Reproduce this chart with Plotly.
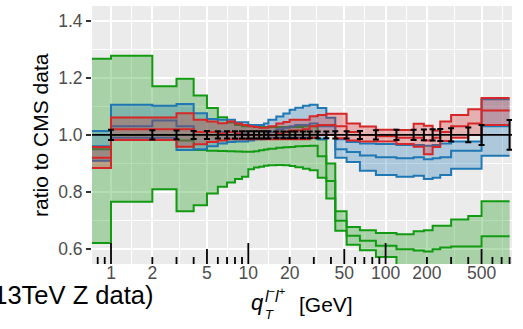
import plotly.graph_objects as go

# ---------------- data ----------------
bin_edges = [0.5, 1, 2, 3, 4, 5, 6, 7, 8, 9, 10, 11, 12, 13, 14, 16, 18, 20, 22, 25,
             28, 32, 37, 43, 52, 65, 85, 120, 160, 190, 220, 250, 300, 400, 500, 800]

green_hi = [1.266, 1.277, 1.170, 1.196, 1.138, 1.094, 1.062, 1.043, 1.035, 1.030, 1.030, 1.030,
            1.028, 1.028, 1.028, 1.028, 1.028, 1.028, 1.028, 1.030, 1.030, 0.985, 0.900, 0.733,
            0.678, 0.667, 0.657, 0.653, 0.663, 0.667, 0.682, 0.682, 0.704, 0.716, 0.768]
green_mid = [0.950, 1.000, 1.000, 0.980, 0.947, 0.945, 0.944, 0.943, 0.942, 0.941, 0.941, 0.943,
             0.946, 0.949, 0.952, 0.955, 0.957, 0.958, 0.960, 0.961, 0.962, 0.925, 0.839, 0.700,
             0.647, 0.630, 0.612, 0.600, 0.596, 0.592, 0.600, 0.606, 0.610, 0.610, 0.646]
green_lo = [0.622, 0.766, 0.810, 0.733, 0.754, 0.795, 0.819, 0.834, 0.846, 0.854, 0.880, 0.886,
            0.889, 0.892, 0.894, 0.895, 0.894, 0.891, 0.887, 0.882, 0.876, 0.850, 0.778, 0.665,
            0.616, 0.597, 0.573, 0.540, 0.530, 0.520, 0.520, 0.530, 0.530, 0.530, 0.540]

blue_hi = [1.014, 1.105, 1.102, 1.108, 1.076, 1.056, 1.053, 1.053, 1.044, 1.044, 1.035, 1.035,
           1.035, 1.040, 1.053, 1.064, 1.075, 1.088, 1.095, 1.102, 1.105, 1.094, 1.060, 0.985,
           0.975, 0.970, 0.968, 0.965, 0.965, 0.962, 0.965, 0.970, 0.977, 0.977, 1.125]
blue_mid = [0.960, 1.030, 1.050, 1.030, 1.010, 1.010, 1.010, 1.010, 1.005, 1.005, 1.000, 1.000,
            1.000, 1.005, 1.010, 1.020, 1.025, 1.030, 1.035, 1.035, 1.040, 1.030, 1.030, 0.950,
            0.940, 0.928, 0.922, 0.918, 0.922, 0.915, 0.918, 0.922, 0.945, 0.945, 1.030]
blue_lo = [0.910, 0.990, 0.990, 0.947, 0.950, 0.960, 0.970, 0.975, 0.977, 0.977, 0.980, 0.985,
           0.985, 0.988, 0.990, 0.990, 0.990, 0.990, 0.990, 0.990, 0.990, 0.985, 1.000, 0.920,
           0.905, 0.875, 0.860, 0.854, 0.857, 0.846, 0.850, 0.860, 0.882, 0.882, 0.927]

red_hi = [0.958, 1.061, 1.061, 1.076, 1.053, 1.047, 1.041, 1.047, 1.040, 1.035, 1.030, 1.028,
          1.025, 1.025, 1.030, 1.040, 1.045, 1.053, 1.053, 1.053, 1.065, 1.070, 1.074, 1.074,
          1.040, 1.029, 1.018, 1.017, 1.039, 1.032, 1.015, 1.047, 1.070, 1.090, 1.129]
red_mid = [0.920, 1.020, 1.020, 1.020, 1.010, 1.010, 1.005, 1.010, 1.005, 1.000, 1.000, 1.000,
           1.000, 1.000, 1.000, 1.005, 1.010, 1.015, 1.015, 1.020, 1.030, 1.035, 1.035, 1.030,
           1.010, 1.000, 0.995, 0.990, 0.990, 0.980, 0.990, 1.010, 1.030, 1.040, 1.085]
red_lo = [0.884, 0.982, 0.982, 0.959, 0.967, 0.975, 0.980, 0.985, 0.985, 0.985, 0.985, 0.985,
          0.985, 0.985, 0.985, 0.985, 0.985, 0.985, 0.985, 0.985, 0.990, 1.000, 1.000, 0.988,
          0.980, 0.977, 0.977, 0.968, 0.959, 0.932, 0.958, 0.979, 0.990, 1.000, 1.035]

data_x = bin_edges[1:]
data_ratio = [1.0] * len(data_x)
data_err = [0.018, 0.016, 0.015, 0.014, 0.014, 0.013, 0.013, 0.013, 0.013, 0.013, 0.013, 0.013,
            0.013, 0.013, 0.012, 0.012, 0.012, 0.012, 0.012, 0.012, 0.012, 0.012, 0.013, 0.013,
            0.014, 0.016, 0.018, 0.018, 0.019, 0.020, 0.021, 0.023, 0.026, 0.035, 0.052]

x_tick_vals = [1, 2, 5, 10, 20, 50, 100, 200, 500]
x_tick_text = ["1", "2", "5", "10", "20", "50", "100", "200", "500"]
x_minor_vals = [0.7071, 1.414, 3.162, 7.071, 14.14, 31.62, 70.71, 141.4, 316.2, 707.1]
y_tick_vals = [0.6, 0.8, 1.0, 1.2, 1.4]
y_tick_text = ["0.6", "0.8", "1.0", "1.2", "1.4"]
y_minor_vals = [0.7, 0.9, 1.1, 1.3]

# ---------------- figure ----------------
fig = go.Figure()


def step_y(vals):
    return list(vals) + [vals[-1]]


bands = [
    (green_lo, green_mid, green_hi, "#139a13", "rgba(44,160,44,0.35)"),
    (blue_lo, blue_mid, blue_hi, "#1f77b4", "rgba(31,119,180,0.30)"),
    (red_lo, red_mid, red_hi, "#d62728", "rgba(214,39,40,0.30)"),
]
for lo, mid, hi, lc, fc in bands:
    fig.add_trace(go.Scatter(x=bin_edges, y=step_y(lo), mode="lines",
                             line=dict(color=lc, width=2, shape="hv"), hoverinfo="skip"))
    fig.add_trace(go.Scatter(x=bin_edges, y=step_y(hi), mode="lines", fill="tonexty",
                             fillcolor=fc, line=dict(color=lc, width=2, shape="hv"),
                             hoverinfo="skip"))
    fig.add_trace(go.Scatter(x=bin_edges, y=step_y(mid), mode="lines",
                             line=dict(color=lc, width=2, shape="hv"), hoverinfo="skip"))

fig.add_hline(y=1.0, line_color="black", line_width=1.8)

fig.add_trace(go.Scatter(x=data_x, y=data_ratio, mode="markers",
                         marker=dict(size=1, color="black"),
                         error_y=dict(type="data", array=data_err, color="black",
                                      thickness=2, width=3)))

# annotation_logticks-style marks along the bottom of the panel
panel_h = 258.0
lt_x, lt_y = [], []
for dec in [0.1, 1, 10, 100]:
    for m in range(1, 10):
        v = m * dec
        if v < 0.72 or v > 840:
            continue
        L = 21 if m == 1 else (15 if m == 5 else 7)
        lt_x += [v, v, None]
        lt_y += [0, L / panel_h, None]
fig.add_trace(go.Scatter(x=lt_x, y=lt_y, mode="lines", yaxis="y2",
                         line=dict(color="black", width=1.8), hoverinfo="skip"))

fig.update_layout(
    width=523, height=329,
    margin=dict(l=92, r=11, t=6, b=65),
    paper_bgcolor="white", plot_bgcolor="#EBEBEB",
    showlegend=False,
    font=dict(family="Liberation Sans, Arial, sans-serif"),
    xaxis=dict(type="log", range=[-0.1384, 2.9206],
               tickmode="array", tickvals=x_tick_vals, ticktext=x_tick_text,
               showgrid=True, gridcolor="white", gridwidth=1.6,
               minor=dict(tickmode="array", tickvals=x_minor_vals, showgrid=True,
                          gridcolor="white", gridwidth=0.8, ticks=""),
               ticks="", ticklen=0, ticklabelstandoff=-4, zeroline=False, showline=False,
               tickfont=dict(size=17.5, color="#4D4D4D")),
    yaxis=dict(range=[0.5486, 1.4507], tickmode="array", tickvals=y_tick_vals,
               ticktext=y_tick_text, showgrid=True, gridcolor="white", gridwidth=1.6,
               minor=dict(tickmode="array", tickvals=y_minor_vals, showgrid=True,
                          gridcolor="white", gridwidth=0.8, ticks=""),
               ticks="outside", ticklen=5, tickwidth=1.5, tickcolor="#333333",
               zeroline=False, showline=False,
               tickfont=dict(size=17.5, color="#4D4D4D")),
    yaxis2=dict(overlaying="y", range=[0, 1], visible=False, fixedrange=True),
)

PW, PH, PL, PB = 420.0, 258.0, 92.0, 264.0


def px_x(p):
    return (p - PL) / PW


def px_y(p):
    return (PB - p) / PH


ann = [
    dict(text="ratio to CMS data", x=px_x(40), y=0.5, textangle=-90, xanchor="center",
         yanchor="middle", font=dict(size=21, color="black")),
    dict(text="(CMS 13TeV Z data)", x=px_x(155), y=px_y(295), xanchor="right",
         yanchor="middle", font=dict(size=25.5, color="black")),
    dict(text="<i>q</i>", x=px_x(249), y=px_y(302), xanchor="left", yanchor="middle",
         font=dict(size=22, color="black")),
    dict(text="<i>l</i><sup>−</sup><i>l</i><sup>+</sup>", x=px_x(263), y=px_y(295),
         xanchor="left", yanchor="middle", font=dict(size=16, color="black")),
    dict(text="<i>T</i>", x=px_x(263), y=px_y(314), xanchor="left", yanchor="middle",
         font=dict(size=13, color="black")),
    dict(text="[GeV]", x=px_x(297), y=px_y(304), xanchor="left", yanchor="middle",
         font=dict(size=21, color="black")),
]
for a in ann:
    fig.add_annotation(xref="paper", yref="paper", showarrow=False, **a)

fig.write_html("out.html")
